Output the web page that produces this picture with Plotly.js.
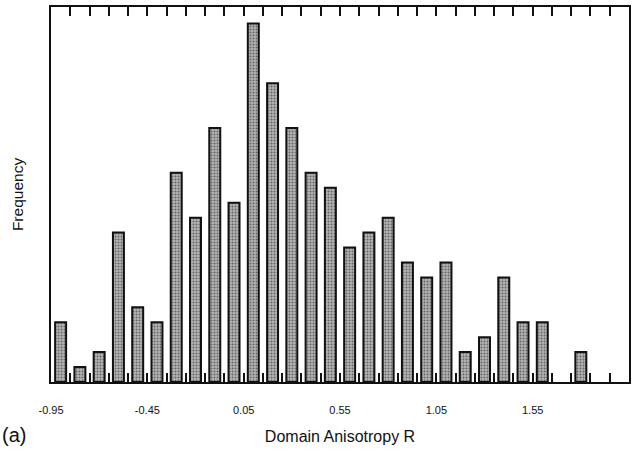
<!DOCTYPE html>
<html>
<head>
<meta charset="utf-8">
<script src="https://cdn.plot.ly/plotly-3.0.1.min.js"></script>
<style>html,body{margin:0;padding:0;background:#fff;}#chart{width:635px;height:455px;}</style>
</head>
<body>
<div id="chart"></div>
<script>
// Bin centers of Domain Anisotropy R (bin width 0.1)
const binCenters = [-0.9,-0.8,-0.7,-0.6,-0.5,-0.4,-0.3,-0.2,-0.1,0.0,0.1,0.2,0.3,0.4,0.5,0.6,0.7,0.8,0.9,1.0,1.1,1.2,1.3,1.4,1.5,1.6,1.7,1.8,1.9,2.0];
const counts = [4,1,2,10,5,4,14,11,17,12,24,20,17,14,13,9,10,11,8,7,8,2,3,7,4,4,0,2,0,0];
// Tick marks at bin edges, labels every 0.5
const tickEdges = [];
for (let i = 1; i < 30; i++) tickEdges.push(Math.round((-0.95 + 0.1 * i) * 100) / 100);
const labelVals = [-0.95, -0.45, 0.05, 0.55, 1.05, 1.55];
const labelText = ['-0.95', '-0.45', '0.05', '0.55', '1.05', '1.55'];

const tickVals = labelVals.concat(tickEdges.filter(v => !labelVals.includes(v)));
const tickText = tickVals.map(v => { const k = labelVals.indexOf(v); return k >= 0 ? labelText[k] : ''; });

const trace = {
  type: 'bar',
  x: binCenters,
  y: counts,
  width: 0.057,
  marker: {
    color: '#a8a8a8',
    line: {color: '#111', width: counts.map(c => c > 0 ? 2 : 0)},
    pattern: {shape: '.', fgcolor: '#666', bgcolor: '#b4b4b4', size: 3, solidity: 0.35}
  },
  hoverinfo: 'skip'
};

const FONT = 'Liberation Sans, Arial, sans-serif';
const layout = {
  width: 635, height: 455,
  margin: {l: 51, r: 6, t: 7, b: 73},
  paper_bgcolor: '#fff', plot_bgcolor: '#fff',
  showlegend: false,
  bargap: 0,
  xaxis: {
    range: [-0.95, 2.05],
    tickmode: 'array', tickvals: tickVals, ticktext: tickText,
    ticks: 'inside', ticklen: 9, tickwidth: 2, tickcolor: '#111',
    mirror: 'ticks', showline: true, linecolor: '#111', linewidth: 2,
    showgrid: false, zeroline: false, layer: 'above traces',
    ticklabelstandoff: 17,
    tickfont: {family: FONT, size: 11, color: '#111'},
    title: {text: 'Domain Anisotropy R', font: {family: FONT, size: 16, color: '#111'}, standoff: 16}
  },
  yaxis: {
    range: [0, 25.1],
    showticklabels: false, ticks: '',
    showline: true, mirror: true, linecolor: '#111', linewidth: 2,
    showgrid: false, zeroline: false,
    title: {text: 'Frequency', font: {family: FONT, size: 15.5, color: '#111'}, standoff: 22}
  },
  annotations: [{
    text: '(a)', xref: 'paper', yref: 'paper', x: -0.088, y: -0.142,
    xanchor: 'left', yanchor: 'middle', showarrow: false,
    font: {family: FONT, size: 20, color: '#111'}
  }]
};

Plotly.newPlot('chart', [trace], layout, {displayModeBar: false, staticPlot: true});
</script>
</body>
</html>
